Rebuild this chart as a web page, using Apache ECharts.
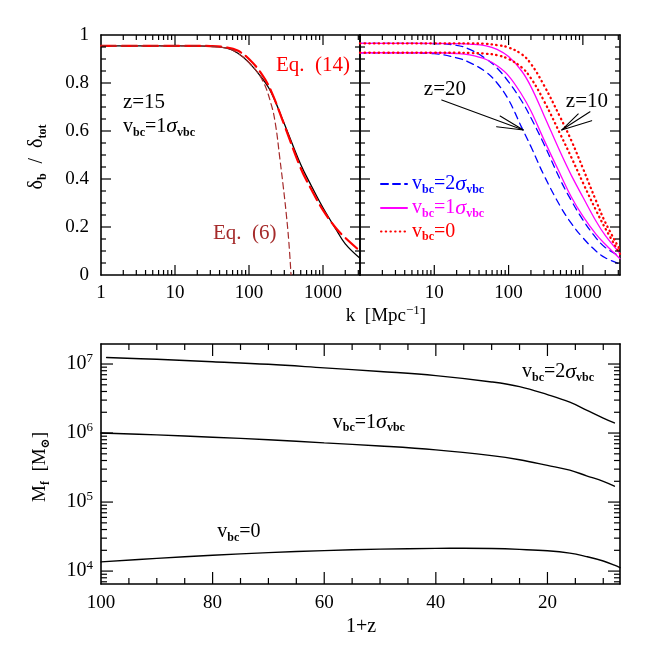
<!DOCTYPE html>
<html><head><meta charset="utf-8">
<script src="https://cdn.jsdelivr.net/npm/echarts@6/dist/echarts.min.js"></script>
<style>html,body{margin:0;padding:0;background:#fff}
#wrap{position:relative;width:654px;height:654px}
#c,#t{position:absolute;left:0;top:0;width:654px;height:654px}
#t{pointer-events:none}</style>
</head><body><div id="wrap"><div id="c"></div><div id="t"></div></div>
<script>
// ---------- DATA ----------
const kGrid = [1,3,10,20,30,50,70,100,150,200,300,500,700,1000,1500,2000,3162];
const z15Exact = [0.955,0.955,0.955,0.955,0.953,0.945,0.925,0.885,0.82,0.76,0.63,0.46,0.37,0.28,0.19,0.13,0.07];
const z15Eq14  = [0.955,0.955,0.955,0.955,0.954,0.948,0.935,0.90,0.835,0.765,0.625,0.445,0.355,0.27,0.195,0.155,0.10];
const eq6K     = [1,3,10,20,30,50,70,100,150,200,230,260,290,320,345,370];
const z15Eq6   = [0.955,0.955,0.955,0.955,0.953,0.945,0.925,0.885,0.815,0.71,0.62,0.49,0.37,0.25,0.14,0.0];
const z20v2 = [0.926,0.926,0.922,0.905,0.885,0.845,0.80,0.73,0.615,0.535,0.415,0.285,0.215,0.155,0.10,0.072,0.045];
const z10v2 = [0.965,0.965,0.964,0.957,0.94,0.90,0.862,0.805,0.725,0.655,0.545,0.395,0.31,0.23,0.155,0.115,0.078];
const z20v1 = [0.926,0.926,0.926,0.923,0.917,0.898,0.872,0.83,0.752,0.683,0.563,0.418,0.325,0.245,0.17,0.128,0.068];
const z10v1 = [0.965,0.965,0.965,0.964,0.962,0.955,0.94,0.91,0.85,0.785,0.665,0.51,0.415,0.325,0.225,0.165,0.09];
const z20v0 = [0.926,0.926,0.926,0.926,0.925,0.922,0.916,0.90,0.865,0.82,0.725,0.585,0.49,0.385,0.27,0.195,0.088];
const z10v0 = [0.965,0.965,0.965,0.965,0.965,0.963,0.958,0.948,0.92,0.88,0.79,0.655,0.56,0.445,0.31,0.22,0.105];
const zGrid2 = [99,90,80,70,60,50,40,30,25,20,16,13,10,8];
const mfV2   = [1.24e7,1.17e7,1.08e7,9.9e6,8.8e6,7.8e6,6.8e6,5.5e6,4.7e6,3.6e6,2.8e6,2.15e6,1.65e6,1.4e6];
const zGrid1 = [100,90,80,70,60,50,40,30,25,20,16,13,10,8];
const mfV1   = [1.0e6,9.4e5,8.7e5,8.0e5,7.2e5,6.5e5,5.7e5,4.7e5,4.1e5,3.4e5,2.9e5,2.4e5,2.0e5,1.7e5];
const zGrid0 = [100,90,80,70,60,50,40,35,30,25,20,16,13,10,8,7];
const mfV0   = [1.36e4,1.53e4,1.7e4,1.85e4,1.98e4,2.08e4,2.13e4,2.14e4,2.12e4,2.06e4,1.97e4,1.82e4,1.62e4,1.4e4,1.22e4,1.12e4];
// tick values
const kMajorTicks = [10,100,1000];
const kMinorTicks = [2,3,4,5,6,7,8,9,20,30,40,50,60,70,80,90,200,300,400,500,600,700,800,900,2000,3000];
const rMajorTicks = [0.2,0.4,0.6,0.8];
const rMinorTicks = [0.05,0.1,0.15,0.25,0.3,0.35,0.45,0.5,0.55,0.65,0.7,0.75,0.85,0.9,0.95];
const zMajorTicks = [20,40,60,80,100];
const zMinorTicks = [10,15,25,30,35,45,50,55,65,70,75,85,90,95];
const mfMajorTicks = [1e4,1e5,1e6,1e7];
const mfMinorTicks = [7e3,8e3,9e3,2e4,3e4,4e4,5e4,6e4,7e4,8e4,9e4,2e5,3e5,4e5,5e5,6e5,7e5,8e5,9e5,2e6,3e6,4e6,5e6,6e6,7e6,8e6,9e6];
// annotations (data coordinates)
const arrowZ20 = [[12.6,0.729],[158,0.604]];
const arrowZ20Head = [[69,0.618],[158,0.604],[77,0.6625]];
const arrowZ10 = [[1247,0.68],[518,0.604]];
const arrowZ10Head = [[1313,0.643],[518,0.604],[867,0.671]];

// ---------- AXIS RANGES ----------
const K_MIN = 1, K_MAX = 3162, R_MIN = 0, R_MAX = 1;
const Z_MIN = 7, Z_MAX = 100, MF_MIN = 6500, MF_MAX = 1.95e7;
const GRIDS = [
  {left: 101, top: 35, width: 259, height: 240},
  {left: 360, top: 35, width: 260, height: 240},
  {left: 101, top: 344, width: 519, height: 240}
];

// ---------- STYLE ----------
const FONT = 'Liberation Serif, DejaVu Serif, serif';
const subRich = {
  sub: {fontSize: 12, fontWeight: 'bold', verticalAlign: 'bottom', lineHeight: 14, fontFamily: FONT},
  sig: {fontSize: 22, fontStyle: 'italic', fontFamily: FONT, lineHeight: 24},
  sup: {fontSize: 13, verticalAlign: 'top', lineHeight: 13, fontFamily: FONT}
};
const pair = (xs, ys) => xs.map((x, i) => [x, ys[i]]);
const axisLineStyle = () => ({show: true, onZero: false, lineStyle: {color: '#000', width: 1.6}});
const labelStyle = {fontFamily: FONT, fontSize: 19, color: '#000'};
const plainNum = v => String(Math.round(v));

function logX(grid, pos, showLabels, hideMin) {
  return {
    type: 'log', logBase: 10, gridIndex: grid, position: pos, min: K_MIN, max: K_MAX,
    axisLine: axisLineStyle(), axisTick: {show: false}, splitLine: {show: false},
    axisLabel: Object.assign({show: showLabels, margin: 9,
      formatter: v => (hideMin && Math.round(v) === 1) || Math.round(v) === K_MAX ? '' : plainNum(v)}, labelStyle)
  };
}
function linY(grid, pos, showLabels) {
  return {
    type: 'value', gridIndex: grid, position: pos, min: R_MIN, max: R_MAX, interval: 0.2,
    axisLine: axisLineStyle(), axisTick: {show: false}, splitLine: {show: false},
    axisLabel: Object.assign({show: showLabels, margin: 12}, labelStyle)
  };
}
function zX(pos) {
  return {
    type: 'value', gridIndex: 2, position: pos, min: Z_MIN, max: Z_MAX, inverse: true,
    axisLine: axisLineStyle(), splitLine: {show: false},
    axisTick: {show: false}, axisLabel: {show: false}
  };
}
function mfY(pos, showLabels) {
  return {
    type: 'log', logBase: 10, gridIndex: 2, position: pos, min: MF_MIN, max: MF_MAX,
    axisLine: axisLineStyle(), splitLine: {show: false}, axisTick: {show: false},
    axisLabel: Object.assign({show: showLabels, margin: 8,
      formatter: v => { const e = Math.log10(v); return Math.abs(e - Math.round(e)) < 1e-6 ? '10{sup|' + Math.round(e) + '}' : ''; },
      lineHeight: 24, rich: subRich}, labelStyle, {fontSize: 20})
  };
}
// bottom x tick labels placed through the axis conversion
function xLabelSeries(xi, yi, vals) {
  return {
    type: 'custom', name: 'zlabels', xAxisIndex: xi, yAxisIndex: yi, silent: true, z: 6,
    encode: {x: 0, y: 1},
    data: vals.map(v => [v, MF_MIN]),
    renderItem: function (params, api) {
      const cs = params.coordSys;
      const px = api.coord([api.value(0), api.value(1)])[0];
      return {type: 'text', x: px, y: cs.y + cs.height + 10,
        style: {text: String(api.value(0)), fill: '#000', font: '19px ' + FONT, align: 'center', verticalAlign: 'top'}};
    }
  };
}
function lineSeries(name, xi, yi, data, color, width, type, extra) {
  return Object.assign({
    type: 'line', name: name, xAxisIndex: xi, yAxisIndex: yi, data: data,
    showSymbol: false, symbol: 'none', smooth: 0.4, silent: true,
    lineStyle: {color: color, width: width, type: type, cap: 'round'}, itemStyle: {color: color}
  }, extra || {});
}
function textMark(coord, text, color, size, pos) {
  return {
    coord: coord, symbol: 'circle', symbolSize: 0,
    label: {show: true, position: pos || 'inside', distance: 0, formatter: text, color: color,
      fontFamily: FONT, fontSize: size || 20, lineHeight: 24, rich: subRich}
  };
}
const markBase = {silent: true, animation: false, symbol: 'circle', symbolSize: 0};
const legendText = {
  'v2': 'v{sub|bc}=2{sig|σ}{sub|vbc}',
  'v1': 'v{sub|bc}=1{sig|σ}{sub|vbc}',
  'v0': 'v{sub|bc}=0'
};
const BLUE = '#0000ff', MAG = '#ff00ff', RED = '#ff0000', BROWN = '#a52a2a';
const dashBlue = [7, 5], dotRed = [0.5, 4.2];

const option = {
  backgroundColor: 'transparent',
  animation: false,
  grid: GRIDS,
  xAxis: [
    logX(0, 'bottom', true, false),
    logX(0, 'top', false, false),
    logX(1, 'bottom', true, true),
    logX(1, 'top', false, false),
    zX('bottom'),
    zX('top')
  ],
  yAxis: [
    linY(0, 'left', true),
    linY(0, 'right', false),
    linY(1, 'left', false),
    linY(1, 'right', false),
    mfY('left', true),
    mfY('right', false)
  ],
  legend: {
    show: true, orient: 'vertical', left: 380, top: 172, itemWidth: 26, itemHeight: 12, itemGap: 0,
    selectedMode: false, padding: 0, itemStyle: {opacity: 0},
    data: [
      {name: 'v2', textStyle: {color: BLUE}},
      {name: 'v1', textStyle: {color: MAG}},
      {name: 'v0', textStyle: {color: RED}}
    ],
    formatter: n => legendText[n],
    textStyle: {fontFamily: FONT, fontSize: 20, lineHeight: 23, rich: subRich}
  },
  graphic: [
    {type: 'text', x: 37, y: 157, rotation: Math.PI / 2,
      style: {text: 'δ{sub|b}  /  δ{sub|tot}', fill: '#000', font: '20px ' + FONT, align: 'center', verticalAlign: 'middle', lineHeight: 24, rich: subRich}},
    {type: 'text', x: 386, y: 316,
      style: {text: 'k  [Mpc{sup|−1}]', fill: '#000', font: '19px ' + FONT, align: 'center', verticalAlign: 'middle', lineHeight: 24, rich: subRich}},
    {type: 'text', x: 40, y: 467, rotation: Math.PI / 2,
      style: {text: 'M{sub|f}  [M{sub|⊙}]', fill: '#000', font: '19px ' + FONT, align: 'center', verticalAlign: 'middle', lineHeight: 24, rich: subRich}},
    {type: 'text', x: 361, y: 627,
      style: {text: '1+z', fill: '#000', font: '20px ' + FONT, align: 'center', verticalAlign: 'middle'}}
  ],
  series: [
    lineSeries('exact', 0, 0, pair(kGrid, z15Exact), '#000', 1.3, 'solid', {
      markPoint: Object.assign({}, markBase, {data: [
        textMark([733, 0.875], 'Eq.  (14)', RED, 21),
        textMark([1.98, 0.718], 'z=15', '#000', 21, 'right'),
        textMark([1.98, 0.618], legendText.v1, '#000', 20, 'right'),
        textMark([32.6, 0.175], 'Eq.  (6)', BROWN, 21, 'right')
      ]})
    }),
    lineSeries('eq14', 0, 0, pair(kGrid, z15Eq14), RED, 2.2, [15, 6]),
    lineSeries('eq6', 0, 0, pair(eq6K, z15Eq6), BROWN, 1.2, [6, 4]),
    lineSeries('v2', 2, 2, pair(kGrid, z20v2), BLUE, 1.3, dashBlue, {
      markPoint: Object.assign({}, markBase, {data: [
        textMark([13.9, 0.771], 'z=20', '#000', 21),
        textMark([1135, 0.725], 'z=10', '#000', 21)
      ]})
    }),
    lineSeries('v2', 2, 2, pair(kGrid, z10v2), BLUE, 1.3, dashBlue),
    lineSeries('v1', 2, 2, pair(kGrid, z20v1), MAG, 1.3, 'solid'),
    lineSeries('v1', 2, 2, pair(kGrid, z10v1), MAG, 1.3, 'solid'),
    lineSeries('v0', 2, 2, pair(kGrid, z20v0), RED, 2.3, dotRed),
    lineSeries('v0', 2, 2, pair(kGrid, z10v0), RED, 2.3, dotRed),
    lineSeries('arrow1', 2, 2, arrowZ20, '#000', 1.1, 'solid', {smooth: false}),
    lineSeries('arrow1h', 2, 2, arrowZ20Head, '#000', 1.1, 'solid', {smooth: false}),
    lineSeries('arrow2', 2, 2, arrowZ10, '#000', 1.1, 'solid', {smooth: false}),
    lineSeries('arrow2h', 2, 2, arrowZ10Head, '#000', 1.1, 'solid', {smooth: false}),
    lineSeries('m2', 4, 4, pair(zGrid2, mfV2), '#000', 1.4, 'solid', {
      markPoint: Object.assign({}, markBase, {data: [
        textMark([18.1, 7.65e6], legendText.v2, '#000', 20),
        textMark([52, 1.43e6], legendText.v1, '#000', 20),
        textMark([75.3, 3.67e4], legendText.v0, '#000', 20)
      ]})
    }),
    lineSeries('m1', 4, 4, pair(zGrid1, mfV1), '#000', 1.4, 'solid'),
    lineSeries('m0', 4, 4, pair(zGrid0, mfV0), '#000', 1.4, 'solid'),
    xLabelSeries(4, 4, zMajorTicks)
  ]
};
document.body.style.background = '#fff';
const chart = echarts.init(document.getElementById('c'), null, {renderer: 'canvas'});
chart.setOption(option);

// ---------- TICK OVERLAY (separate chart with the same grids and scales) ----------
function tickMarks(xi, yi, values, orient, dummy, len) {
  return {
    type: 'custom', xAxisIndex: xi, yAxisIndex: yi, silent: true,
    encode: {x: 0, y: 1},
    data: values.map(v => orient === 'x' ? [v, dummy] : [dummy, v]),
    renderItem: function (params, api) {
      const cs = params.coordSys;
      const p = api.coord([api.value(0), api.value(1)]);
      if (orient === 'x') {
        const px = p[0];
        return {type: 'group', children: [
          {type: 'line', shape: {x1: px, y1: cs.y + cs.height, x2: px, y2: cs.y + cs.height - len}, style: {stroke: '#000', lineWidth: 1.2}},
          {type: 'line', shape: {x1: px, y1: cs.y, x2: px, y2: cs.y + len}, style: {stroke: '#000', lineWidth: 1.2}}]};
      }
      const py = p[1];
      return {type: 'group', children: [
        {type: 'line', shape: {x1: cs.x, y1: py, x2: cs.x + len, y2: py}, style: {stroke: '#000', lineWidth: 1.2}},
        {type: 'line', shape: {x1: cs.x + cs.width, y1: py, x2: cs.x + cs.width - len, y2: py}, style: {stroke: '#000', lineWidth: 1.2}}]};
    }
  };
}
const hidden = {show: false};
const tickOption = {
  animation: false,
  grid: GRIDS,
  xAxis: [
    Object.assign({type: 'log', gridIndex: 0, min: K_MIN, max: K_MAX}, hidden),
    Object.assign({type: 'log', gridIndex: 1, min: K_MIN, max: K_MAX}, hidden),
    Object.assign({type: 'value', gridIndex: 2, min: Z_MIN, max: Z_MAX, inverse: true}, hidden)
  ],
  yAxis: [
    Object.assign({type: 'value', gridIndex: 0, min: R_MIN, max: R_MAX}, hidden),
    Object.assign({type: 'value', gridIndex: 1, min: R_MIN, max: R_MAX}, hidden),
    Object.assign({type: 'log', gridIndex: 2, min: MF_MIN, max: MF_MAX}, hidden)
  ],
  series: [
    tickMarks(0, 0, kMajorTicks, 'x', 0.5, 10),
    tickMarks(0, 0, kMinorTicks, 'x', 0.5, 5),
    tickMarks(0, 0, rMajorTicks, 'y', 10, 10),
    tickMarks(0, 0, rMinorTicks, 'y', 10, 5),
    tickMarks(1, 1, kMajorTicks, 'x', 0.5, 10),
    tickMarks(1, 1, kMinorTicks, 'x', 0.5, 5),
    tickMarks(1, 1, rMajorTicks, 'y', 10, 10),
    tickMarks(1, 1, rMinorTicks, 'y', 10, 5),
    tickMarks(2, 2, zMajorTicks.filter(v => v < Z_MAX), 'x', 1e5, 12),
    tickMarks(2, 2, zMinorTicks, 'x', 1e5, 6),
    tickMarks(2, 2, mfMajorTicks, 'y', 50, 12),
    tickMarks(2, 2, mfMinorTicks, 'y', 50, 6)
  ]
};
const tickChart = echarts.init(document.getElementById('t'), null, {renderer: 'canvas'});
tickChart.setOption(tickOption);
</script>
</body></html>
